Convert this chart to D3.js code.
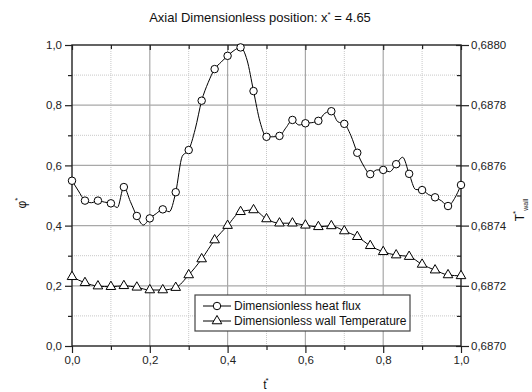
<!DOCTYPE html>
<html>
<head>
<meta charset="utf-8">
<script src="https://cdn.jsdelivr.net/npm/d3@7"></script>
<style>
  body { margin: 0; background: #fff; }
  svg { display: block; font-family: "Liberation Sans", Arial, sans-serif; }
</style>
</head>
<body>
<svg id="chart" width="532" height="392"></svg>
<script>
// ---- data ----
// heat flux sampled at t = j/60 (markers every 2nd sample, t = k/30)
const heatFluxT = d3.range(61).map(j => j / 60);
const heatFlux = [
  0.549, 0.515, 0.483, 0.476, 0.483, 0.478, 0.474, 0.460, 0.528, 0.480,
  0.432, 0.402, 0.424, 0.440, 0.454, 0.446, 0.511, 0.630, 0.651, 0.720,
  0.815, 0.875, 0.920, 0.943, 0.964, 0.982, 0.992, 0.950, 0.847, 0.745,
  0.695, 0.695, 0.698, 0.725, 0.751, 0.734, 0.740, 0.742, 0.748, 0.773,
  0.780, 0.745, 0.738, 0.700, 0.642, 0.598, 0.571, 0.585, 0.585, 0.579,
  0.604, 0.627, 0.572, 0.520, 0.518, 0.503, 0.494, 0.482, 0.465, 0.490,
  0.535
];
// wall temperature sampled at t = k/30
const wallTempT = d3.range(31).map(k => k / 30);
const wallTemp = [
  0.687230, 0.687210, 0.687199, 0.687197, 0.687200, 0.687195, 0.687186, 0.687186,
  0.687194, 0.687236, 0.687289, 0.687352, 0.687400, 0.687446, 0.687452, 0.687422,
  0.687408, 0.687408, 0.687401, 0.687396, 0.687399, 0.687382, 0.687363, 0.687333,
  0.687313, 0.687302, 0.687297, 0.687271, 0.687252, 0.687236, 0.687233
];
const xTicks = [0, 0.2, 0.4, 0.6, 0.8, 1.0];
const xTickLabels = ["0,0", "0,2", "0,4", "0,6", "0,8", "1,0"];
const xMinor = [0.1, 0.3, 0.5, 0.7, 0.9];
const yTicks = [0, 0.2, 0.4, 0.6, 0.8, 1.0];
const yTickLabels = ["0,0", "0,2", "0,4", "0,6", "0,8", "1,0"];
const yMinor = [0.1, 0.3, 0.5, 0.7, 0.9];
const yRTicks = [0.6870, 0.6872, 0.6874, 0.6876, 0.6878, 0.6880];
const yRTickLabels = ["0,6870", "0,6872", "0,6874", "0,6876", "0,6878", "0,6880"];
const yRMinor = [0.6871, 0.6873, 0.6875, 0.6877, 0.6879];
const legendLabels = ["Dimensionless heat flux", "Dimensionless wall Temperature"];

// ---- layout ----
const L = 72, R = 461, T = 45, B = 346;
const svg = d3.select("#chart");
const x = d3.scaleLinear().domain([0, 1]).range([L, R]);
const y = d3.scaleLinear().domain([0, 1]).range([B, T]);
const yR = d3.scaleLinear().domain([0.6870, 0.6880]).range([B, T]);

// grid
const g = svg.append("g");
g.selectAll(".gxm").data(xMinor).enter().append("line")
  .attr("x1", d => x(d)).attr("x2", d => x(d)).attr("y1", T).attr("y2", B)
  .attr("stroke", "#c8c8c8").attr("stroke-width", 1).attr("stroke-dasharray", "1,1");
g.selectAll(".gym").data(yMinor).enter().append("line")
  .attr("y1", d => y(d)).attr("y2", d => y(d)).attr("x1", L).attr("x2", R)
  .attr("stroke", "#c8c8c8").attr("stroke-width", 1).attr("stroke-dasharray", "1,1");
g.selectAll(".gx").data(xTicks.slice(1, -1)).enter().append("line")
  .attr("x1", d => x(d)).attr("x2", d => x(d)).attr("y1", T).attr("y2", B)
  .attr("stroke", "#a8a8a8").attr("stroke-width", 1.2);
g.selectAll(".gy").data(yTicks.slice(1, -1)).enter().append("line")
  .attr("y1", d => y(d)).attr("y2", d => y(d)).attr("x1", L).attr("x2", R)
  .attr("stroke", "#a8a8a8").attr("stroke-width", 1.2);

// axes
function styleAxis(sel) {
  sel.select(".domain").remove();
  sel.selectAll(".tick line").attr("stroke", "#222").attr("stroke-width", 1.2);
  sel.selectAll(".tick text").attr("fill", "#222").style("font-size", "11.5px")
    .style("font-family", "'Liberation Sans', Arial, sans-serif");
}
svg.append("g").attr("transform", `translate(${L},0)`)
  .call(d3.axisLeft(y).tickValues(yTicks).tickFormat((d, i) => yTickLabels[i]).tickSize(7).tickPadding(3))
  .call(styleAxis);
svg.append("g").attr("transform", `translate(${L},0)`)
  .call(d3.axisLeft(y).tickValues(yMinor).tickFormat("").tickSize(4))
  .call(styleAxis);
svg.append("g").attr("transform", `translate(0,${B})`)
  .call(d3.axisBottom(x).tickValues(xTicks).tickFormat((d, i) => xTickLabels[i]).tickSize(7).tickPadding(3))
  .call(styleAxis);
svg.append("g").attr("transform", `translate(0,${B})`)
  .call(d3.axisBottom(x).tickValues(xMinor).tickFormat("").tickSize(4))
  .call(styleAxis);
svg.append("g").attr("transform", `translate(0,${T})`)
  .call(d3.axisTop(x).tickValues(xTicks).tickFormat("").tickSizeInner(-5).tickSizeOuter(0))
  .call(styleAxis);
svg.append("g").attr("transform", `translate(0,${T})`)
  .call(d3.axisTop(x).tickValues(xMinor).tickFormat("").tickSizeInner(-4).tickSizeOuter(0))
  .call(styleAxis);
svg.append("g").attr("transform", `translate(${R},0)`)
  .call(d3.axisRight(yR).tickValues(yRTicks).tickFormat((d, i) => yRTickLabels[i]).tickSize(8).tickPadding(2))
  .call(styleAxis);
svg.append("g").attr("transform", `translate(${R},0)`)
  .call(d3.axisRight(yR).tickValues(yRTicks).tickFormat("").tickSize(-5))
  .call(styleAxis);
svg.append("g").attr("transform", `translate(${R},0)`)
  .call(d3.axisRight(yR).tickValues(yRMinor).tickFormat("").tickSize(-4))
  .call(styleAxis);

// frame
svg.append("rect").attr("x", L).attr("y", T).attr("width", R - L).attr("height", B - T)
  .attr("fill", "none").attr("stroke", "#222").attr("stroke-width", 1.4);

// curves
const hfData = heatFlux.map((v, i) => ({ t: heatFluxT[i], v }));
const wtData = wallTemp.map((v, i) => ({ t: wallTempT[i], v }));
const lineHF = d3.line().x(d => x(d.t)).y(d => y(d.v)).curve(d3.curveMonotoneX);
const lineWT = d3.line().x(d => x(d.t)).y(d => yR(d.v)).curve(d3.curveMonotoneX);
svg.append("path").attr("d", lineHF(hfData)).attr("fill", "none").attr("stroke", "#000").attr("stroke-width", 1);
svg.append("path").attr("d", lineWT(wtData)).attr("fill", "none").attr("stroke", "#000").attr("stroke-width", 1);

const circ = d3.symbol().type(d3.symbolCircle).size(44);
const tri = d3.symbol().type(d3.symbolTriangle).size(40);
svg.selectAll(".mhf").data(hfData.filter((d, i) => i % 2 === 0)).enter().append("path")
  .attr("d", circ).attr("transform", d => `translate(${x(d.t)},${y(d.v)})`)
  .attr("fill", "#fff").attr("stroke", "#000").attr("stroke-width", 1);
svg.selectAll(".mwt").data(wtData).enter().append("path")
  .attr("d", tri).attr("transform", d => `translate(${x(d.t)},${yR(d.v)})`)
  .attr("fill", "#fff").attr("stroke", "#000").attr("stroke-width", 1);

// legend
const lg = svg.append("g");
lg.append("rect").attr("x", 195).attr("y", 295).attr("width", 215).attr("height", 36)
  .attr("fill", "#fff").attr("stroke", "#444").attr("stroke-width", 1.2);
const syms = [circ, tri];
legendLabels.forEach((lab, i) => {
  const yy = 306 + i * 15;
  lg.append("line").attr("x1", 203).attr("x2", 231).attr("y1", yy).attr("y2", yy)
    .attr("stroke", "#000").attr("stroke-width", 1);
  lg.append("path").attr("d", syms[i]).attr("transform", `translate(217,${yy})`)
    .attr("fill", "#fff").attr("stroke", "#000").attr("stroke-width", 1);
  lg.append("text").attr("x", 234).attr("y", yy).attr("dy", "0.35em")
    .style("font-size", "12px").attr("fill", "#111").text(lab);
});

// title
const title = svg.append("text").attr("x", 260).attr("y", 22).attr("text-anchor", "middle")
  .style("font-size", "13px").attr("fill", "#111");
title.append("tspan").text("Axial Dimensionless position: x");
title.append("tspan").attr("dy", -5).style("font-size", "8px").text("*");
title.append("tspan").attr("dy", 5).text(" = 4.65");

// x axis title
const xt = svg.append("text").attr("x", 266).attr("y", 389).attr("text-anchor", "middle")
  .style("font-size", "12px").attr("fill", "#111");
xt.append("tspan").text("t");
xt.append("tspan").attr("dy", -6).attr("dx", -1).style("font-size", "8px").text("*");

// left y title
const ylt = svg.append("text").attr("transform", "translate(26,203) rotate(-90)")
  .attr("text-anchor", "middle").style("font-size", "12px").attr("fill", "#111");
ylt.append("tspan").text("φ");
ylt.append("tspan").attr("dy", -6).style("font-size", "8px").text("*");

// right y title
const yrt = svg.append("text").attr("transform", "translate(524,210) rotate(-90)")
  .attr("text-anchor", "middle").style("font-size", "12px").attr("fill", "#111");
yrt.append("tspan").text("T");
yrt.append("tspan").attr("dy", -6).style("font-size", "8px").text("*");
yrt.append("tspan").attr("dy", 10).style("font-size", "7px").text("wall");
</script>
</body>
</html>
